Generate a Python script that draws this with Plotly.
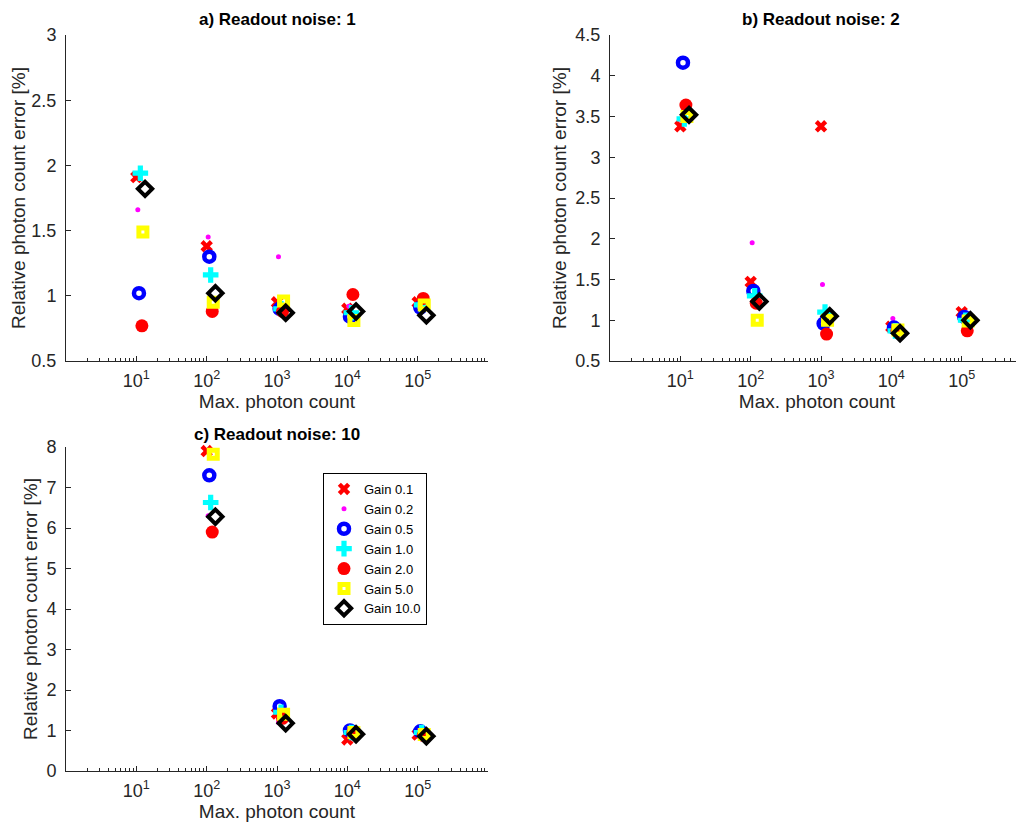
import plotly.graph_objects as go

# ---------------- data ----------------
nominal_counts = [10, 100, 1000, 10000, 100000]
gain_labels = ["Gain 0.1", "Gain 0.2", "Gain 0.5", "Gain 1.0", "Gain 2.0", "Gain 5.0", "Gain 10.0"]
# observed max photon count relative to the nominal one, per gain
count_scale = [1.0, 1.05, 1.09, 1.14, 1.20, 1.24, 1.33]

# relative photon count error [%], rows = gains, cols = nominal counts
err_noise1 = [
    [1.91, 1.38, 0.95, 0.90, 0.95],
    [1.66, 1.45, 1.30, 0.92, 0.93],
    [1.02, 1.30, 0.90, 0.84, 0.91],
    [1.94, 1.16, 0.90, 0.87, 0.93],
    [0.77, 0.88, 0.88, 1.01, 0.98],
    [1.49, 0.95, 0.96, 0.81, 0.93],
    [1.82, 1.02, 0.87, 0.88, 0.85],
]
err_noise2 = [
    [3.38, 1.47, 3.38, 0.92, 1.10],
    [3.45, 1.95, 1.44, 1.02, 1.05],
    [4.16, 1.36, 0.96, 0.91, 1.04],
    [3.47, 1.30, 1.10, 0.87, 1.00],
    [3.64, 1.21, 0.83, 0.87, 0.87],
    [3.50, 1.00, 1.00, 0.88, 0.99],
    [3.52, 1.23, 1.05, 0.84, 1.00],
]
err_noise10 = [
    [None, 7.90, 1.42, 0.78, 0.90],
    [None, 6.30, 1.20, 0.90, 0.90],
    [None, 7.30, 1.60, 1.00, 0.98],
    [None, 6.63, 1.45, 0.95, 0.95],
    [None, 5.90, 1.30, 0.95, 0.88],
    [None, 7.82, 1.40, 0.95, 0.90],
    [None, 6.28, 1.18, 0.91, 0.86],
]
panel_titles = ["a) Readout noise: 1", "b) Readout noise: 2", "c) Readout noise: 10"]
x_tick_vals = [10, 100, 1000, 10000, 100000]
x_tick_text = ["10<sup>1</sup>", "10<sup>2</sup>", "10<sup>3</sup>", "10<sup>4</sup>", "10<sup>5</sup>"]

# ---------------- styles ----------------
marker_styles = [
    dict(symbol="x", color="#FF0000", size=11, line=dict(width=0)),
    dict(symbol="circle", color="#FF00FF", size=5, line=dict(width=0)),
    dict(symbol="circle-open", color="#0000FF", size=10, line=dict(width=4.5, color="#0000FF")),
    dict(symbol="cross", color="#00FFFF", size=13, line=dict(width=0)),
    dict(symbol="circle", color="#FF0000", size=13, line=dict(width=0)),
    dict(symbol="square-open", color="#FFFF00", size=8, line=dict(width=5, color="#FFFF00")),
    dict(symbol="diamond-open", color="#000000", size=11, line=dict(width=4, color="#000000")),
]

# the page body has an 8 px margin; the figure is sized so it fills the 1024x825 window
OFF = 8
W, H = 1024 - OFF, 825 - OFF
AX = "#262626"
FONT = "Liberation Sans"

def px_x(p):
    return (p - OFF) / W

def px_y(p):
    return 1 - (p - OFF) / H

fig = go.Figure()

panels = [
    dict(data=err_noise1, xa="x", ya="y"),
    dict(data=err_noise2, xa="x2", ya="y2"),
    dict(data=err_noise10, xa="x3", ya="y3"),
]

for pi, panel in enumerate(panels):
    for gi, label in enumerate(gain_labels):
        xs = [n * count_scale[gi] for n in nominal_counts]
        fig.add_trace(go.Scatter(
            x=xs, y=panel["data"][gi], mode="markers", name=label,
            marker=marker_styles[gi], xaxis=panel["xa"], yaxis=panel["ya"],
            legendgroup=label, showlegend=(pi == 2), cliponaxis=False,
        ))

def xaxis_cfg(domain, rng):
    return dict(
        type="log", domain=domain, range=rng, showgrid=False, zeroline=False,
        showline=True, linecolor=AX, linewidth=1, ticks="inside", ticklen=5,
        tickcolor=AX, tickvals=x_tick_vals, ticktext=x_tick_text,
        tickfont=dict(family=FONT, size=18, color=AX), ticklabelstandoff=3,
        minor=dict(ticks="inside", ticklen=3, tickcolor=AX, dtick="D1", showgrid=False),
        title=dict(text="Max. photon count", font=dict(family=FONT, size=19, color=AX), standoff=1),
        mirror=False, fixedrange=True, automargin=False,
    )

def yaxis_cfg(domain, rng, dtick, anchor):
    return dict(
        domain=domain, range=rng, dtick=dtick, showgrid=False, zeroline=False,
        showline=True, linecolor=AX, linewidth=1, ticks="inside", ticklen=5,
        tickcolor=AX, tickfont=dict(family=FONT, size=18, color=AX), anchor=anchor,
        ticklabelstandoff=5,
        title=dict(text="Relative photon count error [%]", font=dict(family=FONT, size=19, color=AX), standoff=3),
        fixedrange=True, automargin=False,
    )

dom_a_x = [px_x(66), px_x(488)]
dom_b_x = [px_x(610), 1.0]
dom_top_y = [px_y(361), px_y(35)]
dom_bot_y = [px_y(771), px_y(447)]

fig.update_layout(
    width=W, height=H,
    margin=dict(l=0, r=0, t=0, b=0, autoexpand=False),
    paper_bgcolor="white", plot_bgcolor="white",
    font=dict(family=FONT, color=AX),
    xaxis=xaxis_cfg(dom_a_x, [0, 6]),
    yaxis=yaxis_cfg(dom_top_y, [0.5, 3], 0.5, "x"),
    xaxis2=dict(xaxis_cfg(dom_b_x, [0, 5 + (1024 - 961.7) / 70.3]), anchor="y2"),
    yaxis2=yaxis_cfg(dom_top_y, [0.5, 4.5], 0.5, "x2"),
    xaxis3=dict(xaxis_cfg(dom_a_x, [0, 6]), anchor="y3"),
    yaxis3=yaxis_cfg(dom_bot_y, [0, 8], 1, "x3"),
    legend=dict(
        x=px_x(323), y=px_y(473), xanchor="left", yanchor="top",
        bordercolor="#000000", borderwidth=1, bgcolor="white",
        font=dict(family=FONT, size=13, color="#000000"),
        itemsizing="trace", tracegroupgap=0, itemwidth=30,
    ),
    showlegend=True,
)

title_pos = [((66 + 488) / 2, 8), ((610 + 1031) / 2, 8), ((66 + 488) / 2, 423)]
for t, (cx, cy) in zip(panel_titles, title_pos):
    fig.add_annotation(
        text="<b>" + t + "</b>", x=px_x(cx), y=px_y(cy), xref="paper", yref="paper",
        showarrow=False, xanchor="center", yanchor="top",
        font=dict(family=FONT, size=17, color="#000000"),
    )

fig.write_html("out.html")
